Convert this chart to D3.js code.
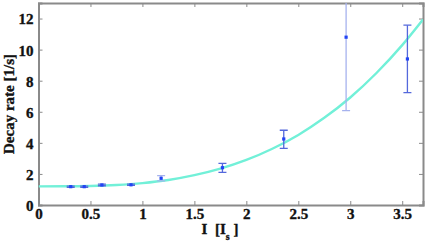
<!DOCTYPE html>
<html><head><meta charset="utf-8">
<script src="https://cdn.jsdelivr.net/npm/d3@7"></script>
<style>body{margin:0;background:#fff}svg{display:block}
.lbl{font-family:"Liberation Serif","Times New Roman",serif;font-weight:700;font-size:15px;fill:#111;stroke:#111;stroke-width:0.35px}</style>
</head><body>
<svg id="c" width="425" height="245"></svg>
<script>
const intensity = [0.31, 0.44, 0.61, 0.89, 1.18, 1.77, 2.36, 2.96, 3.55];
const decayRate = [1.18, 1.18, 1.29, 1.30, 1.72, 2.40, 4.25, 10.8, 9.40];
const errLow    = [0.04, 0.04, 0.05, 0.04, 0.17, 0.30, 0.60, 4.73, 2.17];
const errHigh   = [0.04, 0.04, 0.05, 0.04, 0.17, 0.28, 0.56, 4.73, 2.17];
const errFaint  = [false, false, false, false, true, false, false, true, false];
const fitX = [0, 0.25, 0.5, 0.75, 1, 1.25, 1.5, 1.75, 2, 2.25, 2.5, 2.75, 3, 3.25, 3.5, 3.7];
const fitY = [1.2, 1.203, 1.227, 1.29, 1.41, 1.61, 1.92, 2.34, 2.90, 3.62, 4.51, 5.61, 6.92, 8.48, 10.29, 11.94];
const xTicks = [0, 0.5, 1, 1.5, 2, 2.5, 3, 3.5];
const yTicks = [0, 2, 4, 6, 8, 10, 12];

const svg = d3.select("#c");
const L = 38.5, R = 423, T = 3, B = 205;
const x = d3.scaleLinear().domain([0, 3.7]).range([L, R]);
const y = d3.scaleLinear().domain([0, 13]).range([B, T]);
const grey = "#8a8a8a";

svg.append("defs").append("clipPath").attr("id","clip").append("rect")
  .attr("x", L).attr("y", T).attr("width", R - L).attr("height", B - T);

const gx = svg.append("g").attr("transform", `translate(0,${B})`)
  .call(d3.axisBottom(x).tickValues(xTicks).tickSize(-4).tickPadding(3).tickFormat(d3.format("")));
const gxt = svg.append("g").attr("transform", `translate(0,${T})`)
  .call(d3.axisTop(x).tickValues(xTicks).tickSize(-4).tickFormat(""));
const gy = svg.append("g").attr("transform", `translate(${L},0)`)
  .call(d3.axisLeft(y).tickValues(yTicks).tickSize(-4).tickPadding(5));
const gyr = svg.append("g").attr("transform", `translate(${R},0)`)
  .call(d3.axisRight(y).tickValues(yTicks).tickSize(-4).tickFormat(""));
[gx, gxt, gy, gyr].forEach(g => {
  g.attr("font-family", null).attr("font-size", null);
  g.select(".domain").attr("stroke", grey).attr("stroke-width", 2);
  g.selectAll(".tick line").attr("stroke", grey).attr("stroke-width", 1);
  g.selectAll(".tick text").attr("class", "lbl").attr("fill", null);
});
gx.selectAll(".tick text").attr("dy", "0.71em");
gy.selectAll(".tick text").attr("dy", "0.36em");

const plot = svg.append("g").attr("clip-path", "url(#clip)");

const fitData = fitX.map((v, i) => [v, fitY[i]]);
plot.append("path").datum(fitData)
  .attr("fill", "none").attr("stroke", "#72f0d8").attr("stroke-width", 2.4)
  .attr("d", d3.line().x(d => x(d[0])).y(d => y(d[1])).curve(d3.curveMonotoneX));

const data = intensity.map((v, i) => ({x: v, y: decayRate[i], lo: decayRate[i] - errLow[i], hi: decayRate[i] + errHigh[i], faint: errFaint[i]}));
const eb = plot.selectAll("g.eb").data(data).join("g").attr("class", "eb")
  .attr("stroke", d => d.faint ? "#a6b2ee" : "#5468dc").attr("stroke-width", 1.3);
eb.append("line").attr("x1", d => x(d.x)).attr("x2", d => x(d.x)).attr("y1", d => y(d.lo)).attr("y2", d => y(d.hi));
eb.append("line").attr("x1", d => x(d.x) - 4).attr("x2", d => x(d.x) + 4).attr("y1", d => y(d.lo)).attr("y2", d => y(d.lo));
eb.append("line").attr("x1", d => x(d.x) - 4).attr("x2", d => x(d.x) + 4).attr("y1", d => y(d.hi)).attr("y2", d => y(d.hi));
plot.selectAll("rect.pt").data(data).join("rect").attr("class", "pt")
  .attr("x", d => x(d.x) - 1.6).attr("y", d => y(d.y) - 1.6).attr("width", 3.2).attr("height", 3.2)
  .attr("fill", "#2244f4");

svg.append("text").attr("class", "lbl").attr("transform", `translate(14,${(T + B) / 2}) rotate(-90)`)
  .attr("text-anchor", "middle").text("Decay rate [1/s]");

const xl = svg.append("text").attr("class", "lbl").attr("x", 220).attr("y", 234).attr("text-anchor", "middle");
xl.append("tspan").text("I\u00a0\u00a0[I");
xl.append("tspan").attr("dy", 6).style("font-size", "10px").text("s");
xl.append("tspan").attr("dy", -6).text("\u00a0]");
</script>
</body></html>
